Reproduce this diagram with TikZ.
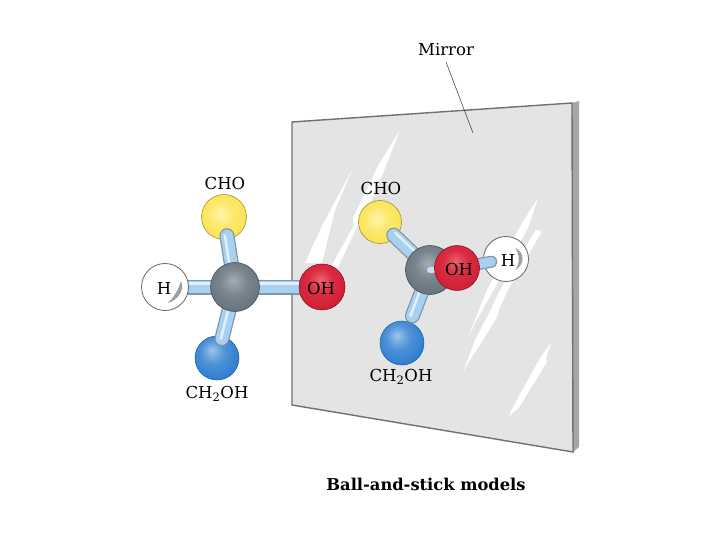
\documentclass[tikz,border=0pt]{standalone}
\usepackage{fontspec}
\setmainfont{DejaVu Serif}

\definecolor{mirrorface}{HTML}{E4E4E4}
\definecolor{mirrorside}{HTML}{A6A6A6}
\definecolor{mirroredge}{HTML}{707070}
\definecolor{stickfill}{HTML}{A8D1F0}
\definecolor{stickedge}{HTML}{7F95A8}
\definecolor{sticklight}{HTML}{E0F0FB}
\definecolor{yellowa}{HTML}{FFF6B0}
\definecolor{yellowb}{HTML}{FBE24E}
\definecolor{yellowc}{HTML}{D9B93A}
\definecolor{reda}{HTML}{EE6070}
\definecolor{redb}{HTML}{D21F36}
\definecolor{redc}{HTML}{7E0F1E}
\definecolor{bluea}{HTML}{9CC4EA}
\definecolor{blueb}{HTML}{2C7CCF}
\definecolor{bluec}{HTML}{185A9E}
\definecolor{graya}{HTML}{A3ADB4}
\definecolor{grayb}{HTML}{68747D}
\definecolor{grayc}{HTML}{3C464E}

% ball shadings, light spot up and to the left
\pgfdeclareradialshading{yellowball}{\pgfpoint{-4bp}{4bp}}{
  color(0bp)=(yellowa); color(14bp)=(yellowb!70!yellowa); color(30bp)=(yellowb); color(42bp)=(yellowb); color(52bp)=(yellowc)}
\pgfdeclareradialshading{redball}{\pgfpoint{-2bp}{8bp}}{
  color(0bp)=(reda); color(14bp)=(redb!80!reda); color(28bp)=(redb); color(42bp)=(redc); color(55bp)=(redc)}
\pgfdeclareradialshading{blueball}{\pgfpoint{-6bp}{9bp}}{
  color(0bp)=(bluea); color(14bp)=(blueb!70!bluea); color(30bp)=(blueb); color(46bp)=(bluec); color(58bp)=(bluec)}
\pgfdeclareradialshading{grayball}{\pgfpoint{-2bp}{7bp}}{
  color(0bp)=(graya); color(14bp)=(grayb!70!graya); color(28bp)=(grayb); color(46bp)=(grayc); color(58bp)=(grayc)}

\tikzset{
  atom/.style={circle, inner sep=0pt, line width=0.5pt},
  yellowatom/.style={atom, minimum size=45pt, shading=yellowball, draw=yellowc!70!black},
  blueatom/.style={atom, minimum size=44pt, shading=blueball, draw=bluec},
  redatom/.style={atom, minimum size=46pt, shading=redball, draw=redc},
  grayatom/.style={atom, minimum size=49pt, shading=grayball, draw=grayc},
  hatom/.style={atom, minimum size=47pt, fill=white, draw=black!60, line width=0.8pt},
  chem/.style={font=\fontsize{16.5}{19}\selectfont, inner sep=0pt},
  streak/.style={fill=white, draw=none},
  shadow/.style={fill=black!38, draw=none},
}

% one stick: edge, body and a light line set off by #4, #5
\newcommand{\stickbond}[5][]{
  \draw[stickedge, line width=15pt, line cap=round, #1] (#2.center) -- (#3.center);
  \draw[stickfill, line width=12.5pt, line cap=round, #1] (#2.center) -- (#3.center);
  \draw[sticklight, line width=2.5pt, line cap=round, #1, transform canvas={xshift=#4, yshift=#5}] (#2.center) -- (#3.center);
}

\begin{document}
\begin{tikzpicture}[x=1pt, y=-1pt]
\useasboundingbox (0,0) rectangle (720,540);
\fill[white] (0,0) rectangle (720,540);

% ===== mirror =====
\fill[mirrorside] (572,103) -- (579,101) -- (579,447) -- (573,452) -- cycle;
\draw[mirroredge, fill=mirrorface, line width=1.4pt] (292,122) -- (572,103) -- (573,452) -- (292,405) -- cycle;
% scratches
\fill[streak] (353,168) -- (335,210) -- (322,263) -- (305,263) -- (322,226) -- cycle;
\fill[streak] (400,130) -- (378,166) -- (353,218) -- (354,225) -- (331,267) -- (338,267) -- (358,225) -- (374,196) -- cycle;
\fill[streak] (538,198) -- (522,223) -- (487,290) -- (468,337) -- (475,323) -- (492,293) -- (528,228) -- cycle;
\fill[streak] (535,231) .. controls (537,229) and (541,230) .. (541,233) -- (508,290) -- (500,307) -- (497,317) -- (483,340) -- (468,363) -- (463,372) -- (475,340) -- (487,317) -- (492,307) -- (500,290) -- cycle;
\fill[streak] (551,343) -- (540,358) -- (513,407) -- (509,416) -- (518,409) -- (547,362) -- (546,358) -- cycle;

% ===== LEFT model =====
\node[yellowatom] (lcho) at (224,217) {};
\node[blueatom] (lch) at (217,358) {};
\coordinate (lc) at (235,287);
\coordinate (lhc) at (165,287);
\coordinate (loh) at (322,287);
\stickbond[shorten >=19pt]{lc}{lcho}{-2pt}{0pt}
\stickbond[shorten >=20pt]{lc}{lch}{-1pt}{0pt}
\stickbond{lc}{lhc}{0pt}{3.5pt}
\stickbond{lc}{loh}{0pt}{3.5pt}
\node[hatom] (lh) at (lhc) {};
\fill[shadow] (181,281) .. controls (185,290) and (178,300) .. (168,303) .. controls (173,298) and (178,291) .. cycle;
\node[chem] (lhtext) at (164,288) {H};
\node[redatom] (lo) at (loh) {};
\node[chem] (lotext) at (321,288) {OH};
\node[grayatom] (lcarbon) at (lc) {};

% ===== RIGHT model =====
\node[yellowatom, minimum size=43pt] (rcho) at (380,222) {};
\node[blueatom] (rch) at (402,343) {};
\coordinate (rc) at (430,270);
\coordinate (roh) at (457,268);
\stickbond[shorten >=19pt]{rc}{rcho}{1.5pt}{2.5pt}
\stickbond[shorten >=29pt]{rc}{rch}{-2pt}{0pt}
\node[grayatom] (rcarbon) at (rc) {};
\node[hatom, minimum size=45pt] (rh) at (506,259) {};
\fill[shadow] (515,248) .. controls (525,252) and (525,265) .. (515,270) .. controls (520,264) and (520,254) .. cycle;
\node[chem] (rhtext) at (508,260) {H};
\draw[stickedge, line width=12pt, line cap=round, shorten >=15pt] (roh) -- (rh.center);
\draw[stickfill, line width=9.5pt, line cap=round, shorten >=15pt] (roh) -- (rh.center);
\draw[stickfill!70!white, line width=6pt, line cap=round] (rc) -- (roh);
\node[redatom, minimum size=45pt] (ro) at (roh) {};
\node[chem] (rotext) at (459,269) {OH};

% ===== labels =====
\node[chem] (lchotext) at (225,183) {CHO};
\node[chem] (lchtext) at (217,394) {CH\textsubscript{2}OH};
\node[chem] (rchotext) at (381,188) {CHO};
\node[chem] (rchtext) at (401,377) {CH\textsubscript{2}OH};
\node[chem] (mirrortext) at (446,50) {Mirror};
\coordinate (mirrorpoint) at (473,133);
\draw[black!80, line width=0.5pt] (446,62) -- (mirrorpoint);
\node[chem, font=\fontsize{16.3}{19}\selectfont\bfseries] (caption) at (426,484) {Ball-and-stick models};
\end{tikzpicture}
\end{document}
